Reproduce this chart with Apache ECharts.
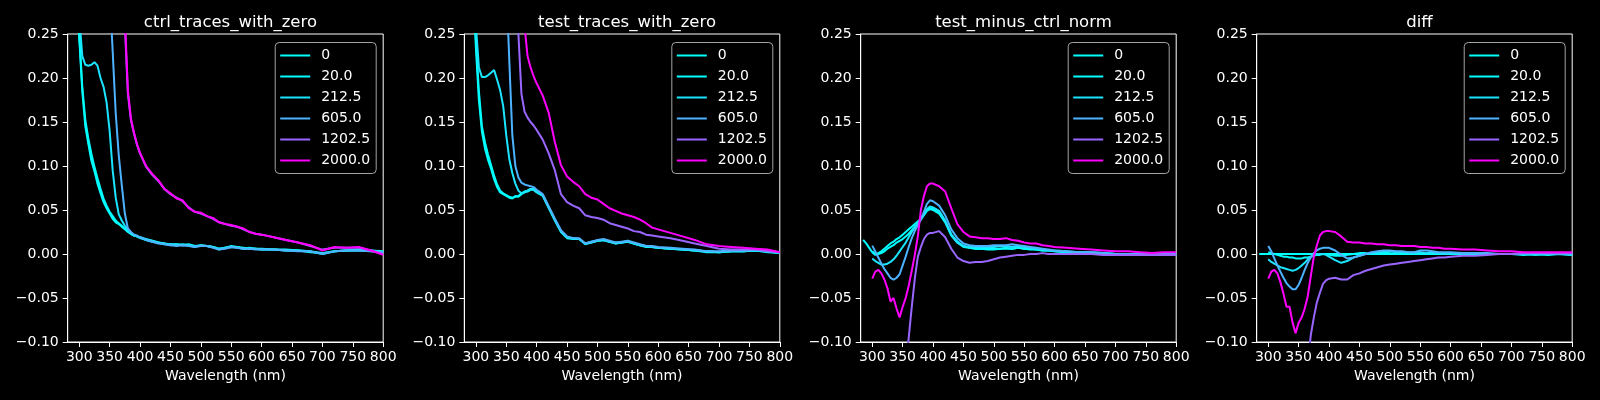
<!DOCTYPE html>
<html>
<head>
<meta charset="utf-8">
<script src="https://cdn.jsdelivr.net/npm/echarts@6/dist/echarts.min.js"></script>
<style>
html, body { margin: 0; padding: 0; background: #000; }
#main { width: 1600px; height: 400px; }
</style>
</head>
<body>
<div id="main"></div>
<script>
// wavelength grid (nm)
var wavelengths = [
  285, 290, 295, 300, 305, 310, 315, 320, 325, 330, 335, 340,
  345, 350, 355, 360, 365, 370, 375, 380, 385, 390, 395, 400,
  410, 420, 430, 440, 450, 460, 470, 480, 490, 500, 510, 520,
  530, 540, 550, 560, 570, 580, 590, 600, 620, 640, 660, 680,
  700, 720, 740, 760, 780, 800
];
var traceNames = ['0', '20.0', '212.5', '605.0', '1202.5', '2000.0'];
var traceColors = ['#00ffff', '#02fdff', '#1be4ff', '#4db2ff', '#9966ff', '#ff00ff'];
var panelTitles = ['ctrl_traces_with_zero', 'test_traces_with_zero', 'test_minus_ctrl_norm', 'diff'];
var xTicks = [300, 350, 400, 450, 500, 550, 600, 650, 700, 750, 800];

// ctrl_traces_with_zero
var ctrl0 = [
  .55, .42, .32, .245, .185, .145, .125, .106, .094, .080, .069, .059,
  .052, .046, .040, .036, .034, .031, .028, .025, .023, .021, .020, .018,
  .016, .014, .013, .011, .011, .010, .011, .010, .008, .010, .009, .008,
  .005, .007, .009, .008, .006, .007, .006, .006, .005, .005, .004, .003,
  .000, .003, .004, .005, .004, .003
];
var ctrl20 = [
  null, .43, .33, .25, .19, .152, .131, .114, .099, .086, .074, .063,
  .055, .048, .043, .038, .035, .032, .029, .026, .023, .021, .020, .019,
  .016, .015, .013, .012, .010, .011, .010, .011, .009, .009, .009, .008,
  .006, .007, .008, .008, .007, .006, .006, .005, .005, .004, .004, .002,
  .001, .003, .004, .004, .004, .002
];
var ctrl212 = [
  null, .45, .34, .27, .225, .215, .214, .215, .218, .214, .200, .190,
  .172, .140, .095, .064, .045, .038, .032, .028, .024, .022, .020, .019,
  .017, .015, .013, .012, .011, .011, .010, .010, .009, .010, .009, .008,
  .006, .007, .008, .007, .006, .006, .006, .005, .005, .004, .004, .003,
  .001, .003, .004, .004, .003, .002
];
var ctrl605 = [
  null, null, null, null, null, null, null, null, null, null, null, null,
  .40, .30, .23, .16, .112, .078, .046, .029, .025, .022, .021, .019,
  .016, .014, .012, .011, .010, .009, .010, .009, .008, .009, .009, .007,
  .005, .006, .008, .007, .006, .006, .005, .005, .005, .004, .003, .003,
  .000, .003, .004, .004, .003, .002
];
var ctrl1202 = [
  null, null, null, null, null, null, null, null, null, null, null, null,
  null, null, null, null, .45, .32, .26, .182, .152, .137, .124, .114,
  .099, .090, .083, .074, .068, .064, .060, .053, .048, .046, .043, .040,
  .036, .034, .032, .031, .028, .025, .023, .022, .019, .016, .013, .009,
  .005, .007, .007, .007, .004, .000
];
var ctrl2000 = [
  null, null, null, null, null, null, null, null, null, null, null, null,
  null, null, null, null, .46, .33, .27, .186, .154, .138, .125, .115,
  .100, .091, .084, .074, .069, .063, .061, .052, .048, .047, .043, .041,
  .036, .034, .033, .031, .029, .025, .023, .022, .019, .016, .013, .010,
  .004, .008, .007, .008, .004, -.001
];

// test_traces_with_zero
var test0 = [
  .55, .42, .32, .235, .175, .139, .120, .107, .097, .085, .076, .070,
  .068, .066, .064, .063, .066, .065, .068, .070, .071, .073, .073, .070,
  .066, .052, .038, .025, .018, .017, .017, .011, .013, .015, .016, .014,
  .012, .013, .015, .012, .010, .008, .008, .007, .006, .005, .004, .002,
  .002, .003, .003, .004, .002, .001
];
var test20 = [
  null, .43, .33, .245, .185, .145, .127, .113, .101, .089, .079, .072,
  .069, .067, .065, .064, .065, .066, .069, .071, .072, .074, .074, .071,
  .067, .053, .039, .026, .019, .018, .017, .012, .014, .015, .016, .014,
  .013, .013, .014, .012, .010, .009, .008, .007, .006, .005, .004, .003,
  .002, .003, .003, .004, .003, .001
];
var test212 = [
  null, .45, .34, .26, .212, .201, .201, .203, .206, .209, .198, .186,
  .168, .135, .108, .092, .080, .072, .069, .070, .072, .074, .073, .071,
  .067, .053, .039, .026, .019, .018, .017, .012, .013, .015, .016, .014,
  .012, .013, .014, .012, .010, .009, .008, .007, .006, .005, .004, .003,
  .002, .003, .003, .004, .003, .001
];
var test605 = [
  null, null, null, null, null, null, null, null, null, null, null, null,
  .40, .31, .22, .135, .100, .087, .081, .079, .078, .077, .076, .073,
  .068, .054, .040, .027, .020, .018, .018, .012, .014, .016, .017, .015,
  .013, .014, .015, .013, .011, .009, .009, .008, .007, .006, .005, .003,
  .003, .004, .004, .005, .003, .002
];
var test1202 = [
  null, null, null, null, null, null, null, null, null, null, null, null,
  null, null, null, null, .40, .25, .182, .162, .155, .150, .146, .141,
  .130, .114, .095, .068, .059, .055, .052, .044, .042, .041, .039, .035,
  .033, .031, .029, .026, .025, .022, .021, .020, .018, .015, .012, .009,
  .006, .005, .005, .005, .003, .002
];
var test2000 = [
  null, null, null, null, null, null, null, null, null, null, null, null,
  null, null, null, null, null, null, .40, .26, .225, .212, .202, .194,
  .180, .160, .127, .101, .088, .082, .077, .068, .064, .062, .057, .052,
  .049, .046, .044, .042, .039, .035, .030, .028, .024, .020, .016, .011,
  .009, .008, .007, .006, .005, .002
];

// test_minus_ctrl_norm
var norm0 = [
  .016, .012, .007, .002, -.001, .001, .003, .006, .009, .012, .014, .017,
  .019, .022, .025, .028, .031, .034, .037, .040, .045, .050, .052, .051,
  .047, .037, .022, .014, .009, .007, .006, .006, .005, .005, .006, .006,
  .006, .007, .006, .005, .005, .004, .004, .003, .002, .002, .001, .000,
  .000, -.001, .000, -.001, -.001, -.001
];
var norm20 = [
  null, null, null, .003, .000, .000, .001, .003, .006, .008, .010, .013,
  .015, .017, .020, .023, .027, .031, .035, .039, .044, .049, .051, .050,
  .046, .036, .021, .013, .008, .007, .006, .006, .006, .006, .006, .007,
  .006, .007, .006, .006, .005, .004, .004, .003, .002, .002, .001, .001,
  .000, .000, .000, -.001, .000, -.001
];
var norm212 = [
  null, null, null, -.005, -.008, -.010, -.012, -.012, -.011, -.009, -.006, -.002,
  .003, .008, .013, .019, .025, .030, .035, .040, .046, .051, .054, .053,
  .049, .038, .022, .013, .009, .008, .008, .008, .008, .008, .009, .009,
  .008, .009, .008, .007, .006, .005, .004, .004, .003, .002, .002, .001,
  .000, .000, .000, -.001, .000, -.001
];
var norm605 = [
  null, null, null, .0095, .003, -.004, -.011, -.017, -.022, -.027, -.029, -.027,
  -.023, -.013, -.003, .008, .018, .026, .033, .039, .048, .057, .061, .060,
  .055, .044, .028, .018, .012, .010, .009, .009, .009, .010, .010, .010,
  .011, .010, .009, .008, .007, .006, .005, .004, .003, .002, .002, .001,
  .000, .000, .000, -.001, .000, .000
];
var norm1202 = [
  null, null, null, null, null, null, null, null, null, null, null, null,
  null, -.165, -.13, -.095, -.060, -.028, -.003, .008, .017, .022, .024, .024,
  .026, .019, .006, -.004, -.008, -.010, -.009, -.009, -.008, -.006, -.004, -.003,
  -.002, -.001, -.001, .000, .000, .001, .000, .000, .000, .000, .000, -.001,
  -.001, -.001, -.001, -.001, -.001, -.001
];
var norm2000 = [
  null, null, null, -.028, -.020, -.018, -.022, -.029, -.039, -.054, -.050, -.062,
  -.072, -.060, -.050, -.036, -.019, -.001, .020, .050, .066, .077, .080, .080,
  .077, .071, .052, .034, .025, .020, .019, .018, .018, .017, .017, .018,
  .016, .015, .013, .012, .012, .010, .009, .008, .007, .006, .005, .004,
  .003, .003, .002, .001, .002, .002
];

// diff
var diff0 = [
  0, 0, 0, 0, 0, 0, 0, 0, 0, 0, 0, 0,
  0, 0, 0, 0, 0, 0, 0, 0, 0, 0, 0, 0,
  0, 0, 0, 0, 0, 0, 0, 0, 0, 0, 0, 0,
  0, 0, 0, 0, 0, 0, 0, 0, 0, 0, 0, 0,
  0, 0, 0, 0, 0, 0
];
var diff20 = [
  null, null, null, .002, .001, .000, -.001, -.002, -.003, -.003, -.004, -.004,
  -.005, -.005, -.005, -.004, -.004, -.003, -.002, -.001, -.001, .000, .000, -.001,
  -.002, -.002, -.001, .000, .001, .001, .000, .001, .002, .001, .000, .001,
  .001, .002, .001, .000, .001, .000, .001, .000, .000, .001, .000, .000,
  .000, -.001, .000, -.001, .000, -.001
];
var diff212 = [
  null, null, null, -.006, -.009, -.011, -.013, -.015, -.016, -.017, -.018, -.019,
  -.018, -.016, -.013, -.010, -.006, -.003, -.001, .000, .000, .000, -.001, -.003,
  -.007, -.010, -.008, -.004, -.002, .000, .001, .002, .003, .003, .002, .002,
  .002, .001, .002, .001, .001, .001, .000, .001, .000, .001, .000, .000,
  .000, .000, -.001, .000, .000, -.001
];
var diff605 = [
  null, null, null, .009, .003, -.005, -.013, -.020, -.027, -.033, -.037, -.040,
  -.040, -.035, -.027, -.018, -.010, -.004, .001, .004, .006, .007, .007, .007,
  .004, -.001, -.005, -.004, -.002, .000, .002, .003, .004, .004, .003, .003,
  .002, .002, .004, .004, .003, .002, .002, .002, .001, .001, .001, .000,
  .000, .000, .001, .000, .000, .000
];
var diff1202 = [
  null, null, null, null, null, null, null, null, null, null, null, null,
  null, null, null, -.16, -.125, -.092, -.072, -.055, -.044, -.034, -.030, -.028,
  -.027, -.029, -.029, -.024, -.022, -.019, -.017, -.015, -.013, -.012, -.011, -.010,
  -.009, -.008, -.007, -.006, -.005, -.004, -.004, -.003, -.002, -.002, -.001, .000,
  .000, .001, .001, .001, .001, .001
];
var diff2000 = [
  null, null, null, -.028, -.020, -.018, -.022, -.032, -.045, -.060, -.060, -.078,
  -.090, -.078, -.072, -.062, -.048, -.025, -.003, .010, .021, .025, .026, .026,
  .025, .020, .014, .013, .013, .012, .012, .011, .011, .010, .010, .009,
  .009, .009, .008, .008, .007, .007, .006, .006, .005, .005, .004, .003,
  .003, .002, .002, .002, .002, .002
];

var panelData = [
  [ctrl0, ctrl20, ctrl212, ctrl605, ctrl1202, ctrl2000],
  [test0, test20, test212, test605, test1202, test2000],
  [norm0, norm20, norm212, norm605, norm1202, norm2000],
  [diff0, diff20, diff212, diff605, diff1202, diff2000]
];

var chart = echarts.init(document.getElementById('main'));

var gridLefts = [67.7, 464.3, 860.7, 1256.7];
var gridWidth = 315.5;
var gridTop = 34;
var gridHeight = 308;
var font = 'DejaVu Sans';

function fmtY(v) {
  if (Math.abs(v) < 1e-9) return '0.00';
  return v.toFixed(2).replace('-', '\u2212');
}

var option = {
  backgroundColor: '#000',
  animation: false,
  title: [],
  legend: [],
  grid: [],
  xAxis: [],
  yAxis: [],
  series: []
};

panelTitles.forEach(function (t, p) {
  var left = gridLefts[p];
  option.title.push({
    text: t,
    left: left + gridWidth / 2,
    top: 9,
    textAlign: 'center',
    textStyle: { color: '#fff', fontSize: 16.5, fontWeight: 'normal', fontFamily: font }
  });
  option.grid.push({
    left: left, top: gridTop, width: gridWidth, height: gridHeight,
    show: true, borderColor: '#fff', borderWidth: 1, backgroundColor: '#000',
    outerBoundsMode: 'none'
  });
  option.legend.push({
    data: traceNames,
    orient: 'vertical',
    right: 1600 - (left + gridWidth) + 7,
    top: gridTop + 8.5,
    icon: 'rect',
    itemWidth: 30,
    itemHeight: 2,
    itemGap: 5,
    padding: [5, 6, 5, 5],
    backgroundColor: 'rgba(0,0,0,0.8)',
    borderColor: '#a3a3a3',
    borderWidth: 1,
    borderRadius: 4,
    selectedMode: false,
    textStyle: { color: '#fff', fontSize: 14, fontFamily: font, lineHeight: 16, padding: [0, 0, 0, 6] }
  });
  option.xAxis.push({
    type: 'value', gridIndex: p, min: 281, max: 800,
    name: 'Wavelength (nm)', nameLocation: 'middle', nameGap: 27,
    nameTextStyle: { color: '#fff', fontSize: 14, fontFamily: font },
    axisLine: { show: true, onZero: false, lineStyle: { color: '#fff', width: 1 } },
    axisTick: { show: true, length: 5, customValues: xTicks, lineStyle: { color: '#fff' } },
    axisLabel: { color: '#fff', fontSize: 14, fontFamily: font, margin: 8, customValues: xTicks },
    splitLine: { show: false }
  });
  option.yAxis.push({
    type: 'value', gridIndex: p, min: -0.1, max: 0.25, interval: 0.05,
    axisLine: { show: true, onZero: false, lineStyle: { color: '#fff', width: 1 } },
    axisTick: { show: true, length: 5, lineStyle: { color: '#fff' } },
    axisLabel: { color: '#fff', fontSize: 14, fontFamily: font, margin: 9, formatter: fmtY },
    splitLine: { show: false }
  });
  panelData[p].forEach(function (vals, k) {
    option.series.push({
      name: traceNames[k],
      type: 'line',
      xAxisIndex: p,
      yAxisIndex: p,
      data: wavelengths.map(function (w, i) { return [w, vals[i]]; }),
      showSymbol: false,
      symbol: 'none',
      clip: true,
      color: traceColors[k],
      lineStyle: { color: traceColors[k], width: 2 }
    });
  });
});

chart.setOption(option);
</script>
</body>
</html>
